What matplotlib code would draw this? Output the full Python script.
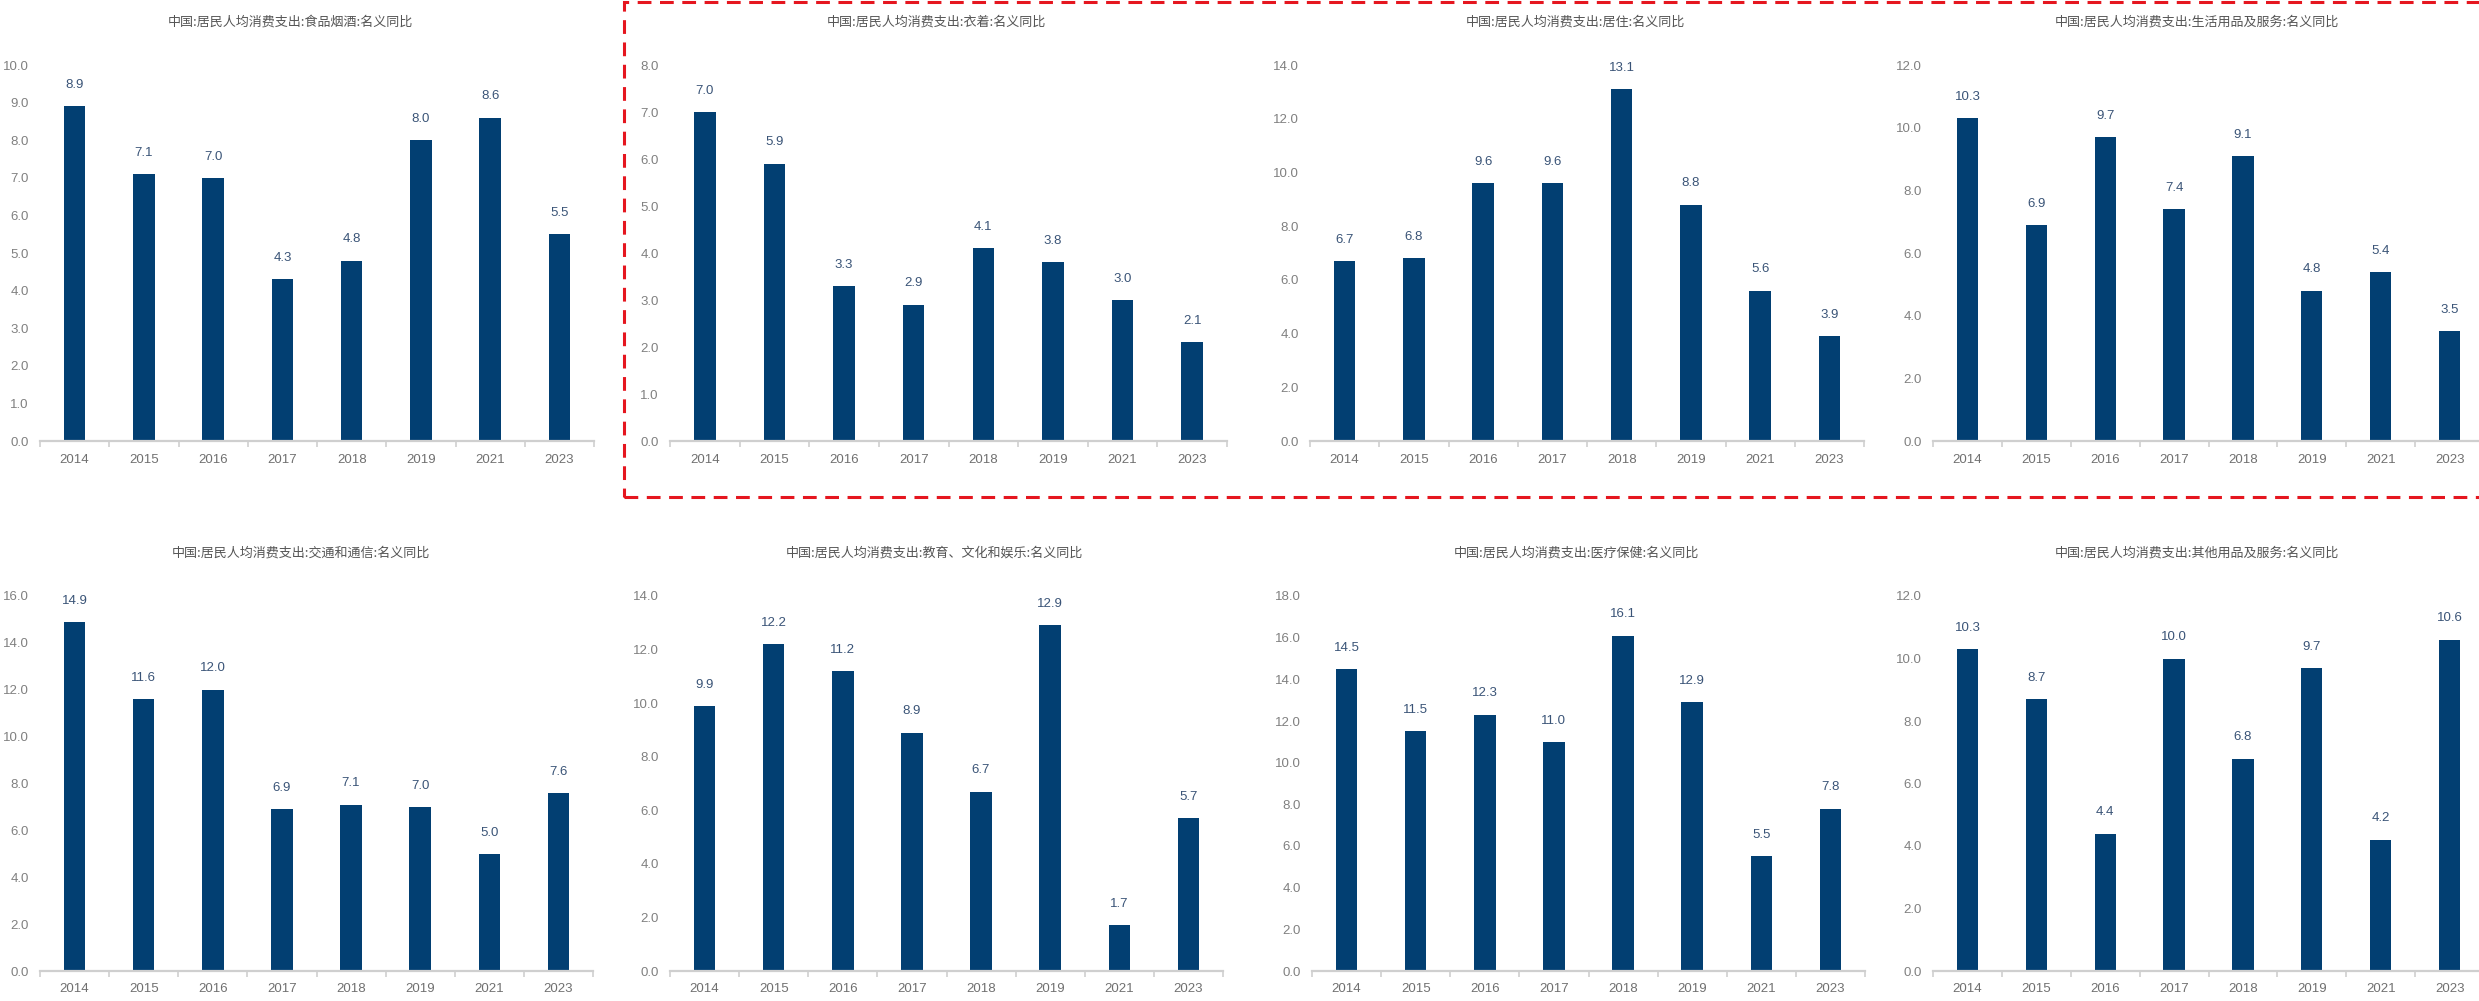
"""
居民人均消费支出分项名义同比（2014-2023），8 个小图。
"""
import matplotlib.pyplot as plt
import matplotlib.patches as mpatches
import matplotlib.ticker as mticker

YEARS = ["2014", "2015", "2016", "2017", "2018", "2019", "2021", "2023"]

SHIPIN = [8.9, 7.1, 7.0, 4.3, 4.8, 8.0, 8.6, 5.5]
YIZHUO = [7.0, 5.9, 3.3, 2.9, 4.1, 3.8, 3.0, 2.1]
JUZHU = [6.7, 6.8, 9.6, 9.6, 13.1, 8.8, 5.6, 3.9]
SHENGHUO = [10.3, 6.9, 9.7, 7.4, 9.1, 4.8, 5.4, 3.5]
JIAOTONG = [14.9, 11.6, 12.0, 6.9, 7.1, 7.0, 5.0, 7.6]
JIAOYU = [9.9, 12.2, 11.2, 8.9, 6.7, 12.9, 1.7, 5.7]
YILIAO = [14.5, 11.5, 12.3, 11.0, 16.1, 12.9, 5.5, 7.8]
QITA = [10.3, 8.7, 4.4, 10.0, 6.8, 9.7, 4.2, 10.6]

TITULOS = [
    "中国:居民人均消费支出:食品烟酒:名义同比",
    "中国:居民人均消费支出:衣着:名义同比",
    "中国:居民人均消费支出:居住:名义同比",
    "中国:居民人均消费支出:生活用品及服务:名义同比",
    "中国:居民人均消费支出:交通和通信:名义同比",
    "中国:居民人均消费支出:教育、文化和娱乐:名义同比",
    "中国:居民人均消费支出:医疗保健:名义同比",
    "中国:居民人均消费支出:其他用品及服务:名义同比",
]
SERIES = [SHIPIN, YIZHUO, JUZHU, SHENGHUO, JIAOTONG, JIAOYU, YILIAO, QITA]
YMAX = [10, 8, 14, 12, 16, 14, 18, 12]
YSTEP = [1, 1, 2, 2, 2, 2, 2, 2]

W, H = 2479, 1001
BAR_COLOR = "#023F72"
NUM_FONT = ["Liberation Sans Narrow", "Liberation Sans", "DejaVu Sans"]
CJK_FONT = ["Noto Sans CJK SC", "DejaVu Sans"]

# posiciones en pixeles: (izquierda, ancho) por columna, (base, alto) por fila
COLS = [[(40, 554), (670, 557), (1310, 554), (1933, 551)],
        [(40, 553), (670, 553), (1312, 553), (1933, 551)]]
ROWS = [(441, 376), (971, 375)]
# desplazamiento horizontal del titulo respecto al centro del eje
TITLE_DX = [-27, -12, -12, -12, -16, -12, -12, -12]


def panel(fig, idx):
    fila, col = divmod(idx, 4)
    left, width = COLS[fila][col]
    base, alto = ROWS[fila]
    ax = fig.add_axes([left / W, 1 - base / H, width / W, alto / H])
    vals = SERIES[idx]
    x = range(len(YEARS))
    ax.bar(x, vals, width=0.31, color=BAR_COLOR, zorder=2)
    for xi, v in zip(x, vals):
        ax.annotate(f"{v:.1f}", (xi, v), xytext=(0, 11), textcoords="offset points",
                    ha="center", va="bottom", fontsize=9.5, color="#3A5477",
                    family=NUM_FONT)

    ax.set_xlim(-0.5, len(YEARS) - 0.5)
    ax.set_ylim(0, YMAX[idx])
    ax.yaxis.set_major_locator(mticker.MultipleLocator(YSTEP[idx]))
    ax.yaxis.set_major_formatter(mticker.FormatStrFormatter("%.1f"))
    ax.set_xticks(list(x))
    ax.set_xticklabels(YEARS)
    ax.set_xticks([i - 0.5 for i in range(len(YEARS) + 1)], minor=True)

    for s in ["top", "right", "left"]:
        ax.spines[s].set_visible(False)
    ax.spines["bottom"].set_color("#CFCFCF")
    ax.spines["bottom"].set_linewidth(1.6)
    ax.tick_params(axis="x", which="major", length=0, pad=9, labelsize=9.5,
                   labelcolor="#707070")
    ax.tick_params(axis="x", which="minor", length=4, width=1.2, color="#CFCFCF")
    ax.tick_params(axis="y", length=0, pad=8, labelsize=9.5, labelcolor="#808080")
    for lab in ax.get_xticklabels() + ax.get_yticklabels():
        lab.set_family(NUM_FONT)

    cx = (left + width / 2 + TITLE_DX[idx]) / W
    ty = 1 - (base - alto - 43) / H
    fig.text(cx, ty, TITULOS[idx], ha="center", va="center", fontsize=9.4,
             color="#555555", family=CJK_FONT)
    return ax


def graficar():
    fig = plt.figure(figsize=(W / 100, H / 100), dpi=100)
    for i in range(8):
        panel(fig, i)

    # recuadro rojo discontinuo alrededor de la fila superior (columnas 2-4)
    x0, y_top, y_bot = 624, 2, 497
    rect = mpatches.Rectangle((x0 / W, 1 - y_bot / H), (W + 20 - x0) / W,
                              (y_bot - y_top) / H, transform=fig.transFigure,
                              fill=False, edgecolor="#E5161F", linewidth=2.2,
                              linestyle=(0, (4.5, 2.8)), clip_on=False)
    fig.add_artist(rect)

    fig.savefig("out.png", dpi=100)
    plt.close(fig)


if __name__ == "__main__":
    graficar()
